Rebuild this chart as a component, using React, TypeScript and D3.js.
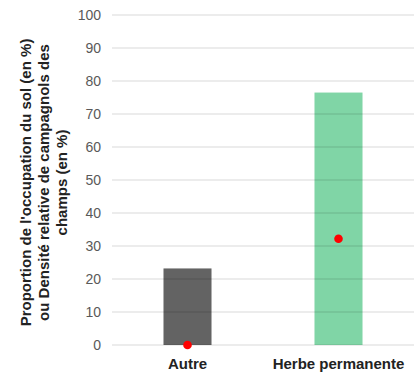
import React from "react";
import * as d3 from "d3";

const categories = ["Autre", "Herbe permanente"];
const landShare = [23.2, 76.5];
const voleDensity = [0, 32.2];
const barColors = ["#636363", "#80d5a6"];
const yTicks = [0, 10, 20, 30, 40, 50, 60, 70, 80, 90, 100];
const yTitleLines = [
  "Proportion de l'occupation du sol (en %)",
  "ou Densité relative de campagnols des",
  "champs (en %)",
];

const W = 414;
const H = 376;
const FONT = "'Liberation Sans', Arial, sans-serif";

export default function App() {
  const x = d3.scaleBand<string>().domain(categories).range([112, 414]).padding(0);
  const y = d3.scaleLinear().domain([0, 100]).range([345, 15]);
  const barW = x.bandwidth() * 0.318;

  return (
    <svg
      width={W}
      height={H}
      style={{ position: "absolute", left: 0, top: 0, background: "#fff" }}
      fontFamily={FONT}
    >
      {categories.map((c, i) => {
        const cx = (x(c) as number) + x.bandwidth() / 2;
        return (
          <rect
            key={c}
            x={cx - barW / 2}
            y={y(landShare[i])}
            width={barW}
            height={y(0) - y(landShare[i])}
            fill={barColors[i]}
          />
        );
      })}
      {yTicks.map((t) => (
        <g key={t}>
          <line
            x1={112}
            x2={414}
            y1={y(t)}
            y2={y(t)}
            stroke="#000"
            strokeOpacity={0.15}
            strokeWidth={1.2}
          />
          <text
            x={101}
            y={y(t)}
            dy="0.35em"
            textAnchor="end"
            fontSize={14}
            fill="#595959"
          >
            {t}
          </text>
        </g>
      ))}
      {categories.map((c, i) => {
        const cx = (x(c) as number) + x.bandwidth() / 2;
        return (
          <circle key={c + "p"} cx={cx} cy={y(voleDensity[i])} r={4.3} fill="#ff0000" />
        );
      })}
      {categories.map((c) => {
        const cx = (x(c) as number) + x.bandwidth() / 2;
        return (
          <text
            key={c + "l"}
            x={cx}
            y={369}
            textAnchor="middle"
            fontSize={15}
            fontWeight="bold"
            fill="#222"
          >
            {c}
          </text>
        );
      })}
      {yTitleLines.map((line, i) => (
        <text
          key={i}
          transform={`translate(${31 + i * 18},182.5) rotate(-90)`}
          textAnchor="middle"
          fontSize={15}
          fontWeight="bold"
          fill="#222"
        >
          {line}
        </text>
      ))}
    </svg>
  );
}
